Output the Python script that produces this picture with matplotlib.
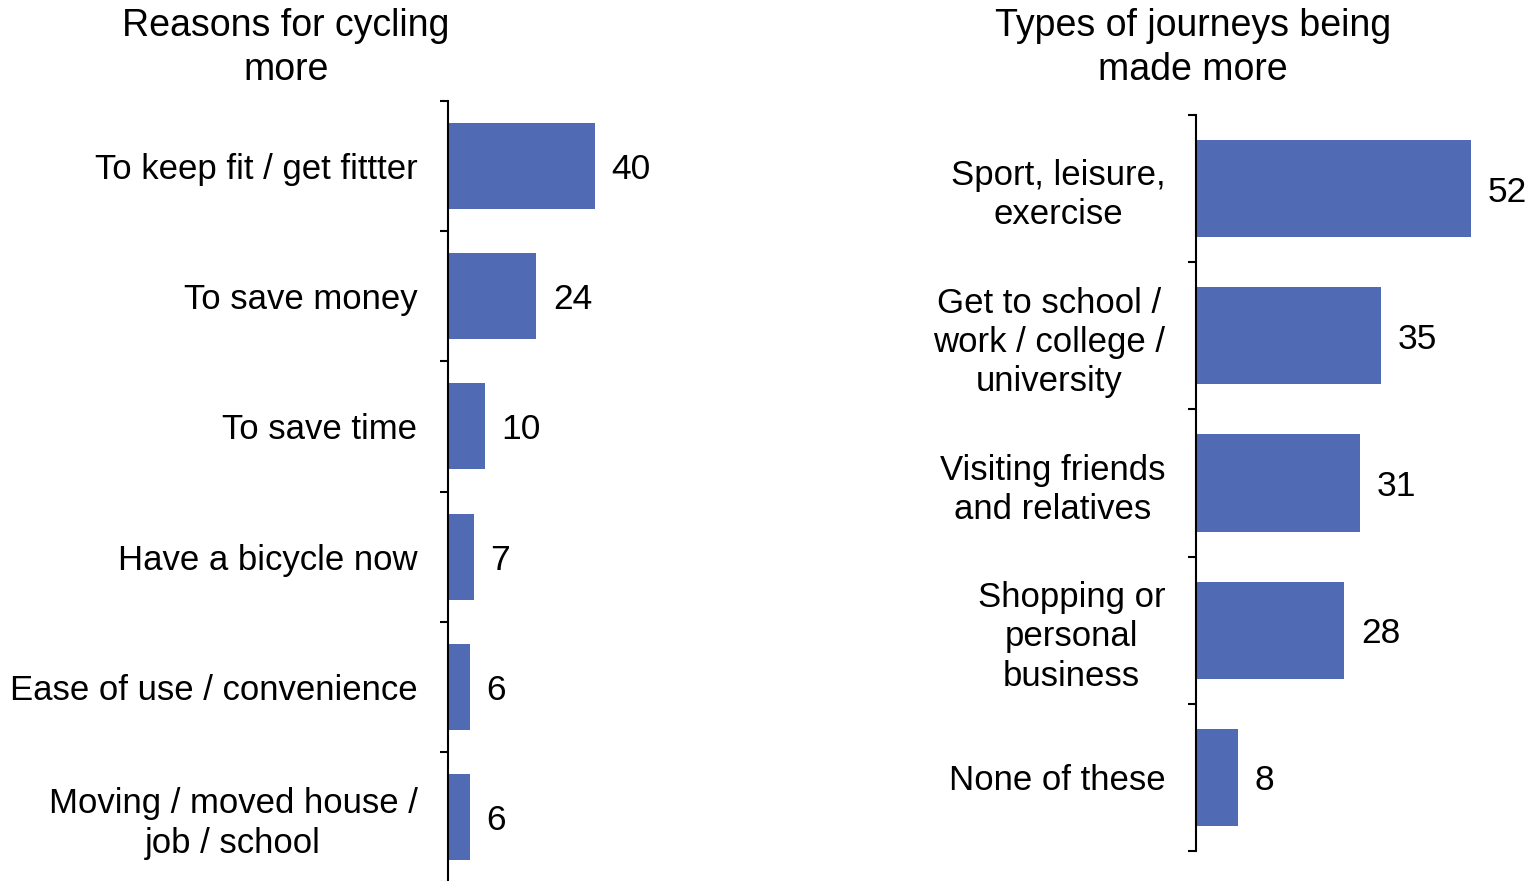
import numpy as np
import matplotlib.pyplot as plt
from matplotlib.ticker import FixedLocator

plt.rcParams['font.family'] = ['Liberation Sans', 'DejaVu Sans']

# data
reasons = ['To keep fit / get fittter', 'To save money', 'To save time',
           'Have a bicycle now', 'Ease of use / convenience',
           'Moving / moved house /\njob / school']
reason_vals = [40, 24, 10, 7, 6, 6]

journeys = ['Sport, leisure,\nexercise', 'Get to school /\nwork / college /\nuniversity',
            'Visiting friends\nand relatives', 'Shopping or\npersonal\nbusiness',
            'None of these']
journey_vals = [52, 35, 31, 28, 8]

bar_color = '#506AB3'
W, H = 1530, 881
fig = plt.figure(figsize=(W / 100, H / 100), dpi=100)


def px_axes(x0, y0, x1, y1):
    # pixel box (top-left origin) -> figure fraction
    return fig.add_axes([x0 / W, 1 - y1 / H, (x1 - x0) / W, (y1 - y0) / H])


def draw(ax, labels, vals, xmax):
    n = len(labels)
    y = np.arange(n)
    ax.barh(y, vals, height=0.66, color=bar_color)
    ax.set_ylim(n - 0.5, -0.5)
    ax.set_xlim(0, xmax)
    for s in ['top', 'right', 'bottom']:
        ax.spines[s].set_visible(False)
    ax.spines['left'].set_linewidth(1.5)
    ax.set_xticks([])
    ax.set_yticks(y)
    ax.set_yticklabels(labels, fontsize=25)
    for t in ax.get_yticklabels():
        t.set_multialignment('center')
        t.set_linespacing(1.24)
    ax.tick_params(axis='y', which='major', length=0, pad=22)
    ax.yaxis.set_minor_locator(FixedLocator(np.arange(n + 1) - 0.5))
    ax.tick_params(axis='y', which='minor', length=6, width=1.5, direction='out')
    for yi, v in zip(y, vals):
        ax.annotate(str(v), (v, yi), xytext=(12, 0), textcoords='offset points',
                    va='center_baseline', ha='left', fontsize=25.5)


ax1 = px_axes(448, 101, 700, 882)
draw(ax1, reasons, reason_vals, 252 / 3.675)

ax2 = px_axes(1196, 115, 1530, 851)
draw(ax2, journeys, journey_vals, 334 / 5.29)

fig.text(286 / W, 1 - 8 / H, 'Reasons for cycling\nmore', ha='center', va='top',
         fontsize=27, linespacing=1.3)
fig.text(1193 / W, 1 - 8 / H, 'Types of journeys being\nmade more', ha='center', va='top',
         fontsize=27, linespacing=1.3)

fig.savefig('out.png', dpi=100)
